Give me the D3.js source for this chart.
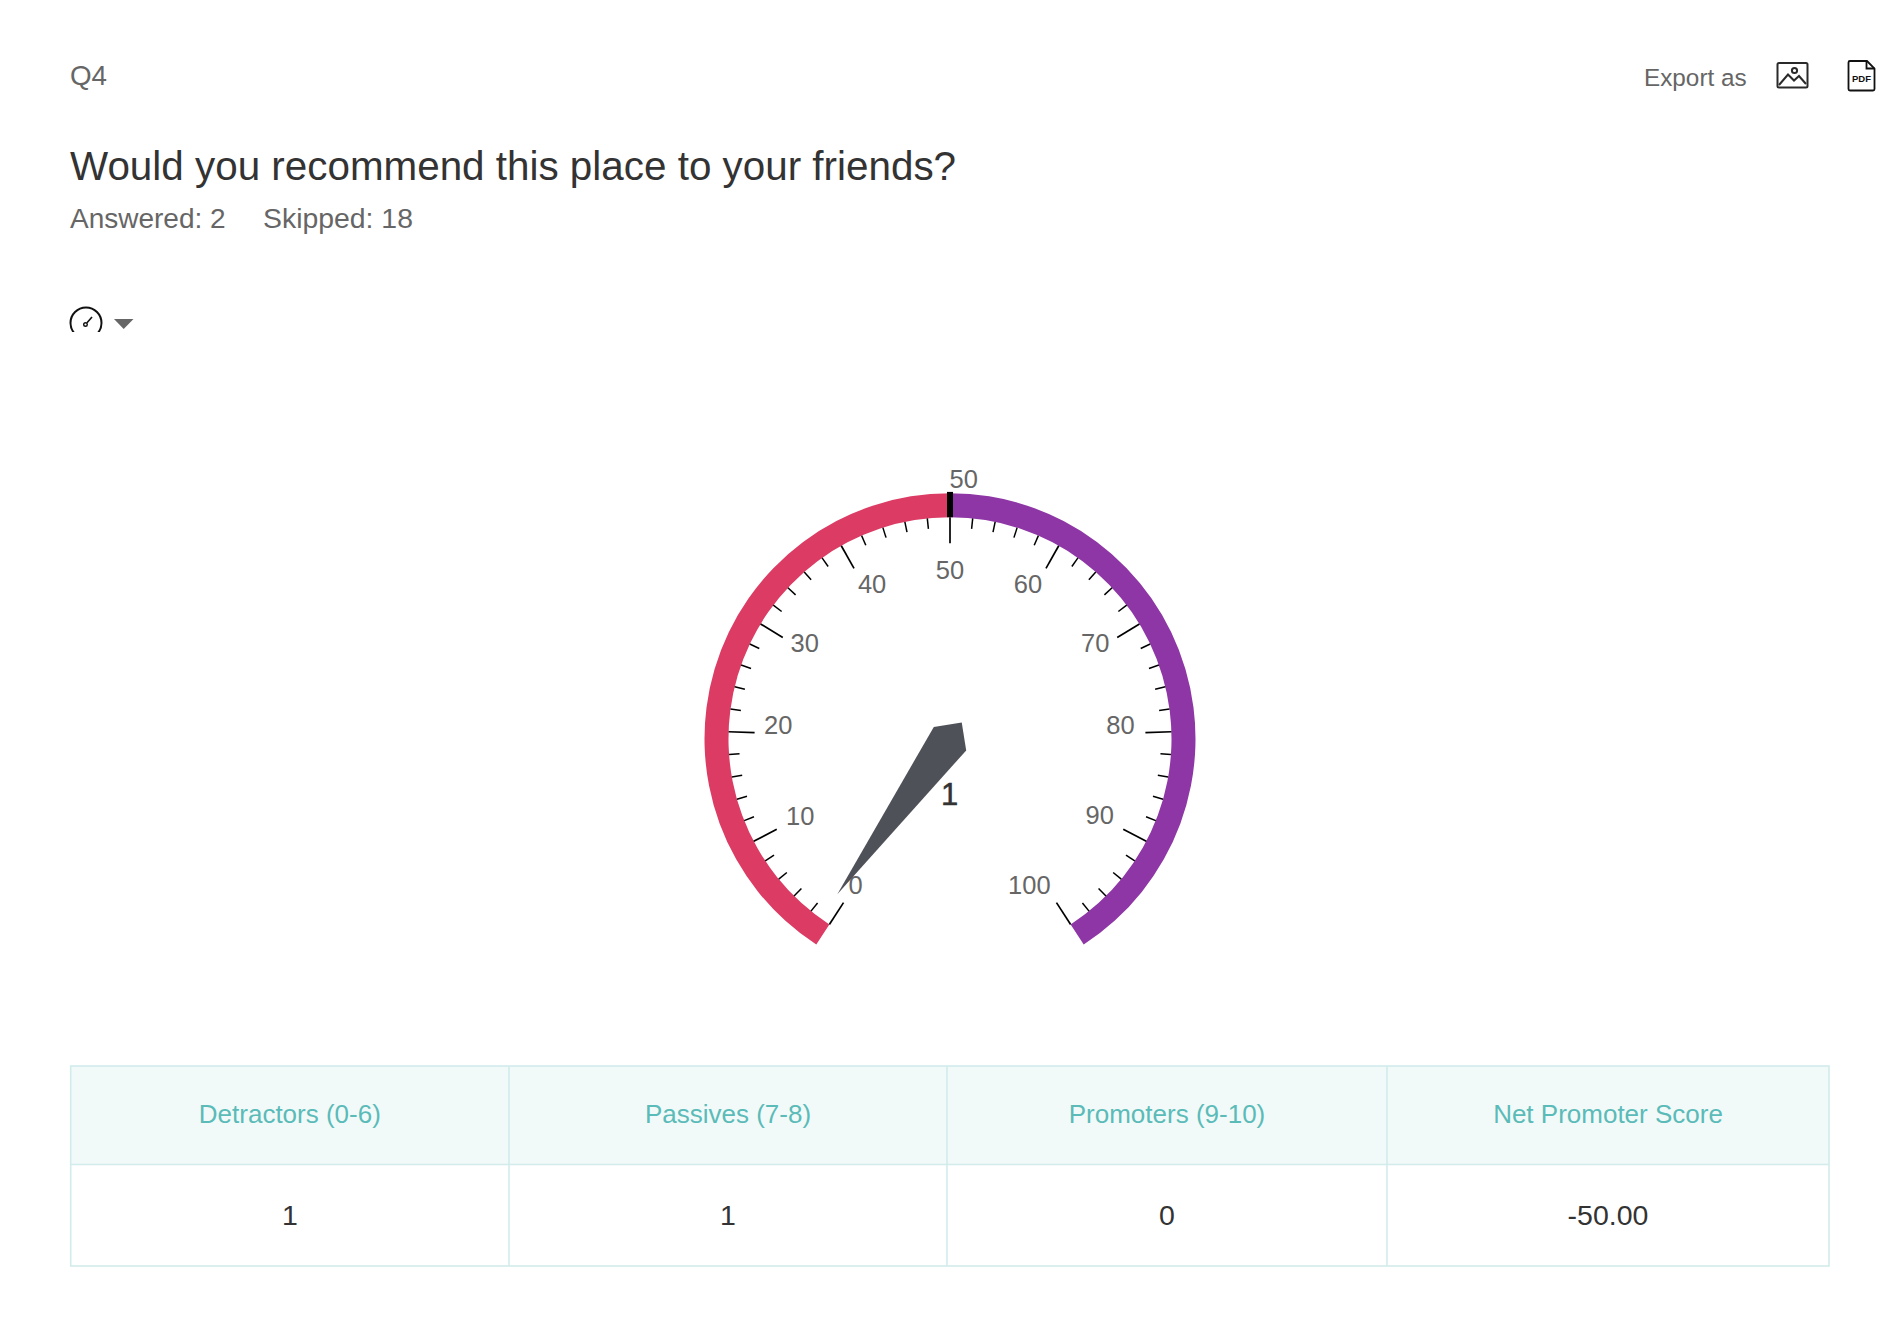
<!DOCTYPE html>
<html><head><meta charset="utf-8">
<script src="https://cdn.jsdelivr.net/npm/d3@7"></script>
<style>html,body{margin:0;padding:0;background:#fff}svg{display:block}text{font-family:"Liberation Sans",Arial,sans-serif}</style>
</head><body><svg id="c" width="1894" height="1322"></svg>
<script>
// Data
const questionId = "Q4";
const questionTitle = "Would you recommend this place to your friends?";
const answeredText = "Answered: 2";
const skippedText = "Skipped: 18";
const bands = [{from:0,to:50,color:"#dc3b63"},{from:50,to:100,color:"#8e36a5"}];
const gaugeMin = 0, gaugeMax = 100;
const majorTicks = d3.range(0,101,10);
const minorTicks = d3.range(0,101,2).filter(v=>v%10);
const plotLineValue = 50;
const needleValue = 1;
const needleLabel = "1";
const tableHeaders = ["Detractors (0-6)","Passives (7-8)","Promoters (9-10)","Net Promoter Score"];
const tableValues = ["1","1","0","-50.00"];

// Layout
const svg = d3.select("#c");
const cx = 950, cy = 738.7;
const angle = d3.scaleLinear().domain([gaugeMin,gaugeMax]).range([-147,147]);
const rad = d=>d*Math.PI/180;
const innerR = 221.5, outerR = 245.5;
const labelRadius = d3.scaleLinear().domain(majorTicks).range([175,169,173,174,173,168.5,173,174,173,169,175]);
const labelNudgeX = d3.scaleOrdinal().domain(majorTicks).range([1,0,1.2,3.6,7,0,-7,-3.6,-2.4,0,-16]);
const labelNudgeY = d3.scaleOrdinal().domain(majorTicks).range([0,-1.2,-8.4,-6,-3.6,0,-3.6,-6,-8.4,-2,0]);
const pt=(v,r)=>[cx+r*Math.sin(rad(angle(v))),cy-r*Math.cos(rad(angle(v)))];

const g = svg.append("g");
const arc = d3.arc().innerRadius(innerR).outerRadius(outerR);
bands.forEach(b=>{
  g.append("path").attr("transform",`translate(${cx},${cy})`)
   .attr("d",arc({startAngle:rad(angle(b.from)),endAngle:rad(angle(b.to))})).attr("fill",b.color);
});
const tick=(v,len,w)=>{const a=pt(v,innerR),b=pt(v,innerR-len);
  g.append("line").attr("x1",a[0]).attr("y1",a[1]).attr("x2",b[0]).attr("y2",b[1]).attr("stroke","#000").attr("stroke-width",w);};
minorTicks.forEach(v=>tick(v,10.5,1.5));
majorTicks.forEach(v=>tick(v,26,1.7));
// plot line
{const a=pt(plotLineValue,innerR),b=pt(plotLineValue,outerR+1.3);
 g.append("line").attr("x1",a[0]).attr("y1",a[1]).attr("x2",b[0]).attr("y2",b[1]).attr("stroke","#000").attr("stroke-width",6);
 g.append("text").attr("x",a[0]-0.5).attr("y",487.5).attr("font-size",25.5).attr("fill","#666").text(plotLineValue);}
majorTicks.forEach(v=>{
  const p=pt(v,labelRadius(v));
  g.append("text").attr("x",p[0]+labelNudgeX(v)).attr("y",p[1]+9+labelNudgeY(v)).attr("text-anchor","middle")
   .attr("font-size",25.5).attr("fill","#666").text(v);
});
// needle, in its own along/across frame, rotated to the value
const needleShape = [[192,0],[0,-20],[-20,0],[0,20]];
const nA = rad(angle(needleValue));
g.append("polygon").attr("fill","#4f5159")
 .attr("points",needleShape.map(([a,p])=>{
   const ux=Math.sin(nA),uy=-Math.cos(nA),vx=-uy,vy=ux;
   return [cx+a*ux+p*vx, cy+a*uy+p*vy].join(",");}).join(" "));
g.append("text").attr("x",cx-0.5).attr("y",805).attr("text-anchor","middle").attr("font-size",31).attr("fill","#333").attr("stroke","#333").attr("stroke-width",0.5).text(needleLabel);

// Header text
const txt=(x,y,s,size,fill,anchor)=>svg.append("text").attr("x",x).attr("y",y).attr("font-size",size).attr("fill",fill).attr("text-anchor",anchor||"start").text(s);
txt(70,85,questionId,27.8,"#666");
txt(70,180,questionTitle,40.4,"#333");
txt(70,227.5,answeredText,28,"#666");
txt(263,227.5,skippedText,28.4,"#666");
txt(1644,86,"Export as",24.3,"#666");

// gauge icon (clipped at the bottom)
svg.append("clipPath").attr("id","ic").append("rect").attr("x",60).attr("y",300).attr("width",60).attr("height",32);
const ic=svg.append("g").attr("clip-path","url(#ic)").attr("fill","none").attr("stroke","#111");
ic.append("circle").attr("cx",86).attr("cy",323).attr("r",15.5).attr("stroke-width",2);
ic.append("circle").attr("cx",85.5).attr("cy",324.5).attr("r",1.8).attr("stroke-width",1.4);
ic.append("line").attr("x1",86.8).attr("y1",323).attr("x2",92).attr("y2",317).attr("stroke-width",1.6);
svg.append("path").attr("d","M114,319L133.5,319L123.7,329Z").attr("fill","#666");

// image icon
const im=svg.append("g").attr("fill","none").attr("stroke","#2a2a2a").attr("stroke-width",2);
im.append("rect").attr("x",1777.5).attr("y",63).attr("width",30).attr("height",24.5).attr("rx",1.5);
im.append("path").attr("d","M1779,85L1788,74.5L1794,80.5L1799,76L1806,84");
im.append("circle").attr("cx",1794.5).attr("cy",70.5).attr("r",2.6);
// pdf icon
const pd=svg.append("g").attr("fill","none").attr("stroke","#111").attr("stroke-width",1.8);
pd.append("path").attr("d","M1867,61L1850,61Q1848.5,61 1848.5,62.5L1848.5,89Q1848.5,90.5 1850,90.5L1873,90.5Q1874.5,90.5 1874.5,89L1874.5,68.5Z");
pd.append("path").attr("d","M1866.5,61L1866.5,68.5L1874.5,68.5");
svg.append("text").attr("x",1861.5).attr("y",82).attr("text-anchor","middle").attr("font-size",9.5).attr("font-weight","bold").attr("fill","#111").text("PDF");

// Table
const colX = d3.scaleOrdinal().domain(d3.range(5)).range([70.7,509,947,1387,1829]);
const rowY = [1066,1164.5,1266];
const border="#d2ecec";
svg.append("rect").attr("x",colX(0)).attr("y",rowY[0]).attr("width",colX(4)-colX(0)).attr("height",rowY[1]-rowY[0]).attr("fill","#f1faf9");
svg.append("rect").attr("x",colX(0)).attr("y",rowY[0]).attr("width",colX(4)-colX(0)).attr("height",rowY[2]-rowY[0]).attr("fill","none").attr("stroke",border).attr("stroke-width",1.6);
svg.append("line").attr("x1",colX(0)).attr("x2",colX(4)).attr("y1",rowY[1]).attr("y2",rowY[1]).attr("stroke",border).attr("stroke-width",1.6);
[1,2,3].forEach(i=>svg.append("line").attr("x1",colX(i)).attr("x2",colX(i)).attr("y1",rowY[0]).attr("y2",rowY[2]).attr("stroke",border).attr("stroke-width",1.6));
tableHeaders.forEach((h,i)=>txt((colX(i)+colX(i+1))/2,1123,h,26,"#5bbbb8","middle"));
tableValues.forEach((h,i)=>txt((colX(i)+colX(i+1))/2,1225,h,28.5,"#333","middle"));
</script></body></html>
